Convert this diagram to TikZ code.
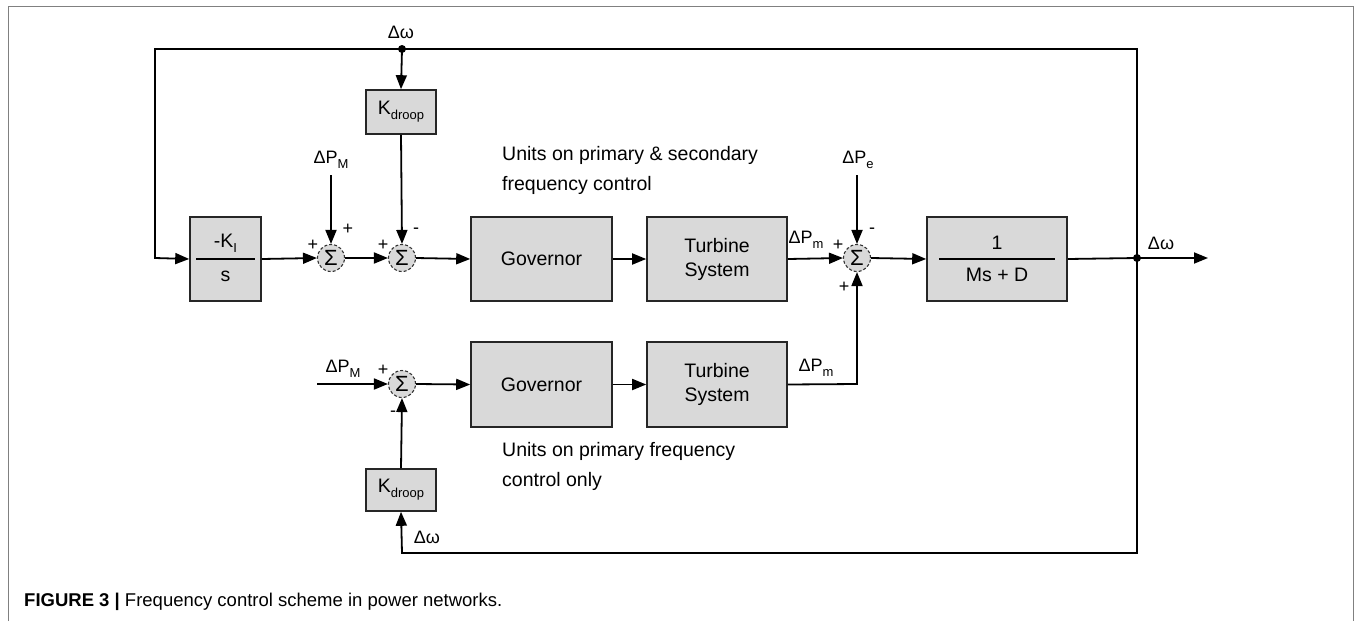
\documentclass[tikz,border=0pt]{standalone}
\usepackage{fontspec}
\setmainfont{Liberation Sans}
\usetikzlibrary{arrows.meta}
\definecolor{boxfill}{HTML}{D9D9D9}
\definecolor{framegray}{HTML}{808080}
\tikzset{
  blk/.style={draw=black!85, line width=1.6pt, fill=boxfill, minimum width=#1, inner sep=0pt, font=\fontsize{19.5}{22}\selectfont, align=center},
  sumn/.style={circle, draw=black!80, densely dashed, line width=1.1pt, fill=boxfill, minimum size=27pt, inner sep=0pt, font=\fontsize{22}{24}\selectfont},
  conn/.style={line width=1.8pt},
  arr/.style={conn, -{Triangle[length=14pt,width=11pt]}},
  lbl/.style={font=\fontsize{18}{20}\selectfont, inner sep=0pt},
  sgn/.style={font=\fontsize{18}{18}\selectfont, inner sep=0pt},
  note/.style={font=\fontsize{19.5}{30}\selectfont, align=left, inner sep=0pt, anchor=north west},
  dotn/.style={circle, fill=black, minimum size=8pt, inner sep=0pt}
}
\newcommand\dsub[1]{\raisebox{-0.5ex}{\fontsize{13}{13}\selectfont #1}}
\begin{document}
\begin{tikzpicture}[x=1pt,y=-1pt]
\useasboundingbox (0,0) rectangle (1356,621);
% frame
\draw[framegray, line width=1pt] (8,621) -- (8,6) -- (1353,6) -- (1353,621);

% blocks
\node[blk=71pt, minimum height=84pt] (ki) at (225.5,259) {};
\node[lbl, font=\fontsize{19.5}{22}\selectfont] (kinum) at (225.5,243) {-K\dsub{I}};
\node[lbl, font=\fontsize{19.5}{22}\selectfont] (kiden) at (225.5,276) {s};
\draw[line width=1.6pt] ([xshift=7pt]ki.west) -- ([xshift=-7pt]ki.east);

\node[blk=141pt, minimum height=84pt] (gov1) at (541.5,259) {Governor};
\node[blk=140pt, minimum height=84pt] (tur1) at (717,259) {Turbine\\[2pt]System};
\node[blk=140pt, minimum height=84pt] (plant) at (997,259) {};
\node[lbl, font=\fontsize{19.5}{22}\selectfont] (pnum) at (997,243) {1};
\node[lbl, font=\fontsize{19.5}{22}\selectfont] (pden) at (997,275) {Ms + D};
\draw[line width=1.6pt] ([xshift=13pt]plant.west) -- ([xshift=-13pt]plant.east);

\node[blk=70pt, minimum height=44pt] (kd1) at (401,112) {K\dsub{droop}};
\node[blk=141pt, minimum height=85pt] (gov2) at (541.5,384.5) {Governor};
\node[blk=140pt, minimum height=85pt] (tur2) at (717,384.5) {Turbine\\[2pt]System};
\node[blk=70pt, minimum height=42pt] (kd2) at (401,490) {K\dsub{droop}};

% summing junctions
\node[sumn] (s1) at (331,258) {Σ};
\node[sumn] (s2) at (402,258) {Σ};
\node[sumn] (s3) at (857,258) {Σ};
\node[sumn] (s4) at (402,384) {Σ};

% points
\node[dotn] (dtop) at (402,49) {};
\node[dotn] (dout) at (1137,258) {};
\coordinate (ctr) at (1137,49);
\coordinate (ctl) at (155,49);
\coordinate (cbl) at (155,258);
\coordinate (oend) at (1208,258);
\coordinate (pm1) at (331,175);
\coordinate (pe) at (857,175);
\coordinate (pm2) at (317,384);
\coordinate (cbr) at (1137,553);
\coordinate (cbk) at (402,553);
\coordinate (cpm) at (857,384);

% connectors
\draw[arr] (dout.center) -- (ctr) -- (ctl) -- (cbl) -- (ki.west);
\draw[arr] (dtop.center) -- (kd1.north);
\draw[arr] (kd1.south) -- (s2.north);
\draw[arr] (ki.east) -- (s1.west);
\draw[arr] (pm1) -- (s1.north);
\draw[arr] (s1.east) -- (s2.west);
\draw[arr] (s2.east) -- (gov1.west);
\draw[arr] (gov1.east) -- (tur1.west);
\draw[arr] (tur1.east) -- (s3.west);
\draw[arr] (pe) -- (s3.north);
\draw[arr] (s3.east) -- (plant.west);
\draw[conn] (plant.east) -- (dout.center);
\draw[arr] (dout.center) -- (oend);
\draw[arr] (pm2) -- (s4.west);
\draw[arr] (s4.east) -- (gov2.west);
\draw[arr] (gov2.east) -- (tur2.west);
\draw[arr] (tur2.east) -- (cpm) -- (s3.south);
\draw[arr] (dout.center) -- (cbr) -- (cbk) -- (kd2.south);
\draw[arr] (kd2.north) -- (s4.south);

% labels
\node[lbl] (lw1) at (401,32) {Δω};
\node[lbl] (lpm1) at (331,160) {ΔP\dsub{M}};
\node[lbl] (lpe) at (858,160) {ΔP\dsub{e}};
\node[lbl] (lpm3) at (806,240) {ΔP\dsub{m}};
\node[lbl] (lw2) at (1161,243) {Δω};
\node[lbl] (lpm2) at (343,369) {ΔP\dsub{M}};
\node[lbl] (lpm4) at (816,368) {ΔP\dsub{m}};
\node[lbl] (lw3) at (427,537) {Δω};

% signs
\node[sgn] at (313,245) {+};
\node[sgn] at (348,229) {+};
\node[sgn] at (383,245) {+};
\node[sgn] at (416,231) {-};
\node[sgn] at (838,245) {+};
\node[sgn] at (872,231) {-};
\node[sgn] at (844,287) {+};
\node[sgn] at (383,370) {+};
\node[sgn] at (393,414) {-};

% notes
\node[note] (n1) at (502,146) {Units on primary \& secondary\\frequency control};
\node[note] (n2) at (502,442) {Units on primary frequency\\control only};

% caption
\node[anchor=west, inner sep=0pt, font=\fontsize{18.5}{20}\selectfont] (cap) at (24,602) {\textbf{FIGURE 3 |} Frequency control scheme in power networks.};
\end{tikzpicture}
\end{document}
